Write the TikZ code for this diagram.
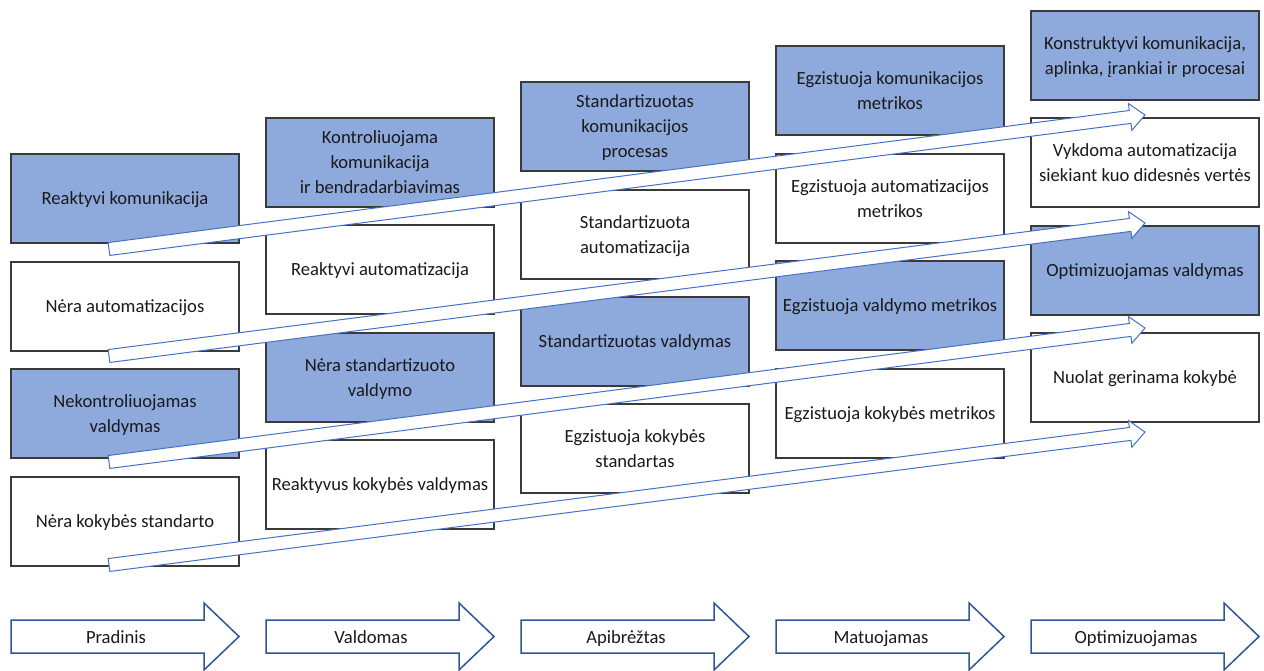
\documentclass[tikz,border=0pt]{standalone}
\usepackage{fontspec}
\setmainfont{Carlito}
\usetikzlibrary{calc}
\definecolor{boxblue}{HTML}{8EA9DB}
\definecolor{edgegray}{HTML}{3A3A3A}
\definecolor{arrowblue}{HTML}{4472C4}
\definecolor{darkblue}{HTML}{2F5597}
\definecolor{txt}{HTML}{1A1A1A}
\tikzset{
  cell/.style={draw=edgegray, line width=1.2pt, minimum width=228pt, minimum height=89pt,
    inner sep=0pt, outer sep=0pt, align=center, anchor=north west, text=txt,
    text depth=0pt, font=\fontsize{18.6}{25}\selectfont},
  bluecell/.style={cell, fill=boxblue},
  whitecell/.style={cell, fill=white},
  flow/.style={draw=arrowblue, line width=1pt, fill=white, line join=miter},
  stage/.style={draw=darkblue, line width=1.5pt, fill=white, line join=miter},
  stagetext/.style={text=txt, font=\fontsize{18.6}{25}\selectfont, inner sep=0pt, anchor=base}
}
\newcommand{\flowarrow}[2]{%
  \coordinate (#1h) at ($(#2)!15pt!(#1)$);
  \draw[flow] ($(#1)!6.5pt!90:(#2)$) -- ($(#1h)!6.5pt!90:(#2)$) -- ($(#1h)!13.5pt!90:(#2)$)
    -- (#2) -- ($(#1h)!13.5pt!-90:(#2)$) -- ($(#1h)!6.5pt!-90:(#2)$)
    -- ($(#1)!6.5pt!-90:(#2)$) -- cycle;}
\newcommand{\stagearrow}[3]{%
  \draw[stage] (#1,620) -- ({#1+193},620) -- ({#1+193},603) -- ({#1+228},636.5)
    -- ({#1+193},670) -- ({#1+193},653) -- (#1,653) -- cycle;
  \node[stagetext] (#2) at ({#1+105},643) {#3};}
\begin{document}
\begin{tikzpicture}[x=1pt,y=-1pt]
\useasboundingbox (0,0) rectangle (1264,670);
% column 1
\node[bluecell]  (c1a) at (11,154) {Reaktyvi komunikacija};
\node[whitecell] (c1b) at (11,262) {Nėra automatizacijos};
\node[bluecell]  (c1c) at (11,369) {Nekontroliuojamas\\valdymas};
\node[whitecell] (c1d) at (11,477) {Nėra kokybės standarto};
% column 2
\node[bluecell]  (c2a) at (266,118) {Kontroliuojama\\komunikacija\\ir bendradarbiavimas};
\node[whitecell] (c2b) at (266,225) {Reaktyvi automatizacija};
\node[bluecell]  (c2c) at (266,333) {Nėra standartizuoto\\valdymo};
\node[whitecell] (c2d) at (266,440) {Reaktyvus kokybės valdymas};
% column 3
\node[bluecell]  (c3a) at (521,82) {Standartizuotas\\komunikacijos\\procesas};
\node[whitecell] (c3b) at (521,190) {Standartizuota\\automatizacija};
\node[bluecell]  (c3c) at (521,297) {Standartizuotas valdymas};
\node[whitecell] (c3d) at (521,404) {Egzistuoja kokybės\\standartas};
% column 4
\node[bluecell]  (c4a) at (776,46) {Egzistuoja komunikacijos\\metrikos};
\node[whitecell] (c4b) at (776,154) {Egzistuoja automatizacijos\\metrikos};
\node[bluecell]  (c4c) at (776,261) {Egzistuoja valdymo metrikos};
\node[whitecell] (c4d) at (776,369) {Egzistuoja kokybės metrikos};
% column 5
\node[bluecell]  (c5a) at (1031,11) {Konstruktyvi komunikacija,\\aplinka, įrankiai ir procesai};
\node[whitecell] (c5b) at (1031,118) {Vykdoma automatizacija\\siekiant kuo didesnės vertės};
\node[bluecell]  (c5c) at (1031,226) {Optimizuojamas valdymas};
\node[whitecell] (c5d) at (1031,333) {Nuolat gerinama kokybė};
% diagonal arrows
\coordinate (t1) at (109,249); \coordinate (e1) at (1145,115);
\coordinate (t2) at (109,356); \coordinate (e2) at (1145,223);
\coordinate (t3) at (109,462); \coordinate (e3) at (1145,328);
\coordinate (t4) at (109,565); \coordinate (e4) at (1145,432);
\flowarrow{t1}{e1}
\flowarrow{t2}{e2}
\flowarrow{t3}{e3}
\flowarrow{t4}{e4}
% stage arrows
\stagearrow{11}{s1}{Pradinis}
\stagearrow{266}{s2}{Valdomas}
\stagearrow{521}{s3}{Apibrėžtas}
\stagearrow{776}{s4}{Matuojamas}
\stagearrow{1031}{s5}{Optimizuojamas}
\end{tikzpicture}
\end{document}
